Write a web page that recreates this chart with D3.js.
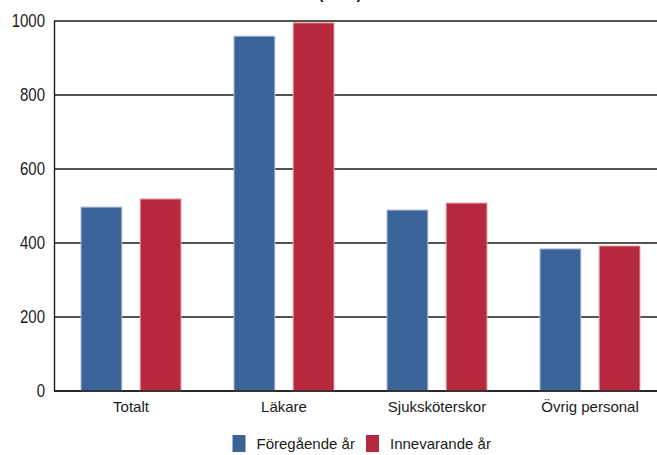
<!DOCTYPE html>
<html><head><meta charset="utf-8">
<script src="https://cdn.jsdelivr.net/npm/d3@7"></script>
<style>body{margin:0;background:#fff;overflow:hidden}svg{display:block;font-family:"Liberation Sans",Arial,sans-serif}</style>
</head><body>
<script>
const categories = ["Totalt", "Läkare", "Sjuksköterskor", "Övrig personal"];
const seriesNames = ["Föregående år", "Innevarande år"];
const prevYear = [497, 959, 489, 384];
const currYear = [519, 995, 508, 392];
const yTicks = [0, 200, 400, 600, 800, 1000];
const colors = ["#3a6497", "#b6283e"];
const strokes = ["#a9bed8", "#e3a3ad"];

const W = 657, H = 455;
const svg = d3.select("body").append("svg").attr("width", W).attr("height", H);

const x0 = d3.scaleBand().domain(categories).range([54.5, 666.5]).padding(0);
const x1 = d3.scaleBand().domain(seriesNames).range([26.5, 126.5]).paddingInner(0.31).paddingOuter(0);
const y = d3.scaleLinear().domain([0, 1000]).range([391, 21]);

// title remnant (cut off at top)
svg.append("text").attr("x", 340).attr("y", -1.5).attr("text-anchor", "middle")
  .attr("font-size", 16).attr("font-weight", "bold").attr("fill", "#222").text("(SEK)");

// gridlines
svg.append("g").selectAll("line").data(yTicks).join("line")
  .attr("x1", 54).attr("x2", W).attr("y1", d => y(d)).attr("y2", d => y(d))
  .attr("stroke", "#1a1a1a").attr("stroke-width", 1.4);

// y axis labels
const yAxis = d3.axisLeft(y).tickValues(yTicks).tickSize(0).tickPadding(9).tickFormat(d3.format("d"));
const ga = svg.append("g").attr("transform", "translate(54,0)").call(yAxis);
ga.select(".domain").remove();
ga.selectAll("text").attr("font-size", 15).attr("fill", "#1a1a1a")
  .attr("font-family", "Liberation Sans, Arial, sans-serif")
  .attr("transform", "scale(1,1.18)");

// left axis line
svg.append("line").attr("x1", 54.5).attr("x2", 54.5).attr("y1", y(1000)).attr("y2", y(0))
  .attr("stroke", "#1a1a1a").attr("stroke-width", 1.4);

// bars
const data = categories.map((c, i) => ({cat: c, vals: [prevYear[i], currYear[i]]}));
const groups = svg.append("g").selectAll("g").data(data).join("g")
  .attr("transform", d => `translate(${x0(d.cat)},0)`);
groups.selectAll("rect").data(d => d.vals.map((v, j) => ({s: seriesNames[j], v, j}))).join("rect")
  .attr("x", d => x1(d.s)).attr("width", x1.bandwidth())
  .attr("y", d => y(d.v)).attr("height", d => y(0) - y(d.v))
  .attr("fill", d => colors[d.j]).attr("stroke", d => strokes[d.j]).attr("stroke-width", 1);

// redraw baseline over bars
svg.append("line").attr("x1", 54).attr("x2", W).attr("y1", y(0)).attr("y2", y(0))
  .attr("stroke", "#1a1a1a").attr("stroke-width", 1.4);

// category labels
const xAxis = d3.axisBottom(x0).tickSize(0).tickPadding(0);
const gx = svg.append("g").attr("transform", "translate(0,400)").call(xAxis);
gx.select(".domain").remove();
gx.selectAll("text").attr("font-size", 15).attr("fill", "#1a1a1a").attr("dy", null).attr("y", 12)
  .attr("font-family", "Liberation Sans, Arial, sans-serif");

// legend
const legX = [232.5, 366];
const lg = svg.append("g");
seriesNames.forEach((s, i) => {
  lg.append("rect").attr("x", legX[i]).attr("y", 435).attr("width", 13).attr("height", 17)
    .attr("fill", colors[i]);
  lg.append("text").attr("x", legX[i] + 24).attr("y", 449).attr("font-size", 15)
    .attr("fill", "#1a1a1a").text(s);
});
</script>
</body></html>
